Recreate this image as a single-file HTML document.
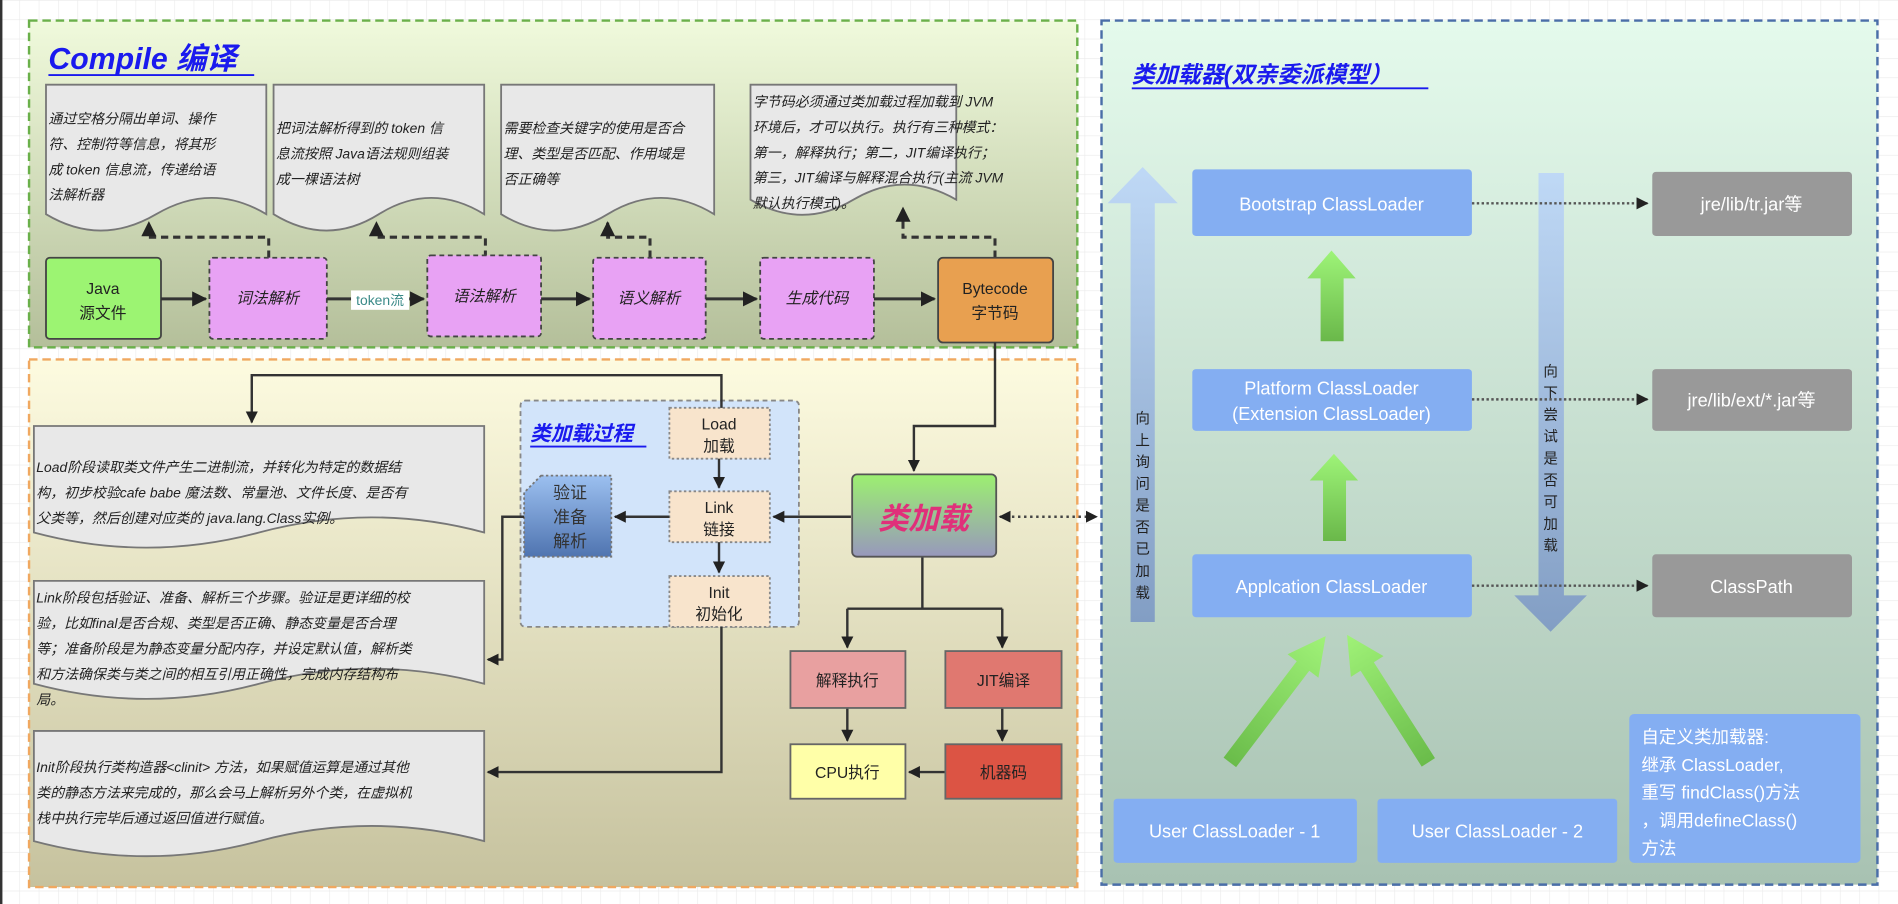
<!DOCTYPE html>
<html><head><meta charset="utf-8"><style>
html,body{margin:0;padding:0;width:1898px;height:904px;overflow:hidden;background:#fff}
svg{display:block}
text{font-family:"Liberation Sans","Noto Sans CJK SC",sans-serif}
.doc{fill:#e8e8e8;stroke:#777;stroke-width:1.5}
.dt{font-size:11.5px;font-style:italic;fill:#222}
.nt{font-size:13px;fill:#222;text-anchor:middle}
.wt{font-size:15px;fill:#fff;text-anchor:middle}
</style></head><body>
<svg width="1898" height="904" viewBox="0 0 1568 747" preserveAspectRatio="none" xmlns="http://www.w3.org/2000/svg">
<defs>
<pattern id="grid" width="16" height="16" patternUnits="userSpaceOnUse"><path d="M16 0H0V16" fill="none" stroke="#eaeaea" stroke-width="1"/></pattern>
<linearGradient id="gC" x1="0" y1="0" x2="0" y2="1"><stop offset="0" stop-color="#f0fadc"/><stop offset="1" stop-color="#b4bf9a"/></linearGradient>
<linearGradient id="gL" x1="0" y1="0" x2="0" y2="1"><stop offset="0" stop-color="#fdfbe0"/><stop offset="1" stop-color="#c6c29e"/></linearGradient>
<linearGradient id="gR" x1="0" y1="0" x2="0" y2="1"><stop offset="0" stop-color="#e4faec"/><stop offset="1" stop-color="#a8c2b2"/></linearGradient>
<linearGradient id="gK" x1="0" y1="0" x2="0" y2="1"><stop offset="0" stop-color="#9cf070"/><stop offset="1" stop-color="#9898bc"/></linearGradient>
<linearGradient id="gV" x1="0" y1="0" x2="0" y2="1"><stop offset="0" stop-color="#9cc0f0"/><stop offset="1" stop-color="#4f74b0"/></linearGradient>
<linearGradient id="gU" x1="0" y1="0" x2="0" y2="1"><stop offset="0" stop-color="#bcd6f8"/><stop offset="1" stop-color="#7c98c4"/></linearGradient>
<linearGradient id="gG" x1="0" y1="0" x2="0" y2="1"><stop offset="0" stop-color="#9ef478"/><stop offset="1" stop-color="#6ab84a"/></linearGradient>
<linearGradient id="gA" x1="0" y1="0" x2="1" y2="0"><stop offset="0" stop-color="#6abc4a"/><stop offset="1" stop-color="#a0f278"/></linearGradient>
<marker id="ah" viewBox="0 0 10 10" refX="9" refY="5" markerWidth="5" markerHeight="5" orient="auto-start-reverse"><path d="M0 0L10 5L0 10Z" fill="#222"/></marker>
</defs>
<rect width="1568" height="747" fill="url(#grid)"/>
<rect x="0" y="0" width="2" height="747" fill="#333"/>

<rect x="24" y="17" width="866" height="270" fill="url(#gC)" stroke="#6ab04a" stroke-width="2" stroke-dasharray="7,4"/>
<rect x="24" y="297" width="866" height="436" fill="url(#gL)" stroke="#f0a860" stroke-width="2" stroke-dasharray="7,4"/>
<rect x="910" y="17" width="641" height="714" fill="url(#gR)" stroke="#4a6ea8" stroke-width="2" stroke-dasharray="7,4"/>

<text x="40" y="57" font-size="25" font-weight="bold" font-style="italic" fill="#1a1aee">Compile 编译</text>
<line x1="40" y1="62" x2="210" y2="62" stroke="#1a1aee" stroke-width="1.5"/>

<path class="doc" d="M38,70 H220 V177 Q175,150 129,177 T38,177 Z"/>
<path class="doc" d="M226,70 H400 V177 Q356,150 313,177 T226,177 Z"/>
<path class="doc" d="M414,70 H590 V177 Q546,150 502,177 T414,177 Z"/>
<path class="doc" d="M620,70 H790 V165 Q747,140 705,165 T620,165 Z"/>
<text class="dt"><tspan x="40" y="102">通过空格分隔出单词、操作</tspan><tspan x="40" y="123">符、控制符等信息，将其形</tspan><tspan x="40" y="144">成 token 信息流，传递给语</tspan><tspan x="40" y="165">法解析器</tspan></text>
<text class="dt"><tspan x="228" y="110">把词法解析得到的 token 信</tspan><tspan x="228" y="131">息流按照 Java语法规则组装</tspan><tspan x="228" y="152">成一棵语法树</tspan></text>
<text class="dt"><tspan x="416" y="110">需要检查关键字的使用是否合</tspan><tspan x="416" y="131">理、类型是否匹配、作用域是</tspan><tspan x="416" y="152">否正确等</tspan></text>
<text class="dt"><tspan x="622" y="88">字节码必须通过类加载过程加载到 JVM</tspan><tspan x="622" y="109">环境后，才可以执行。执行有三种模式：</tspan><tspan x="622" y="130">第一，解释执行；第二，JIT编译执行；</tspan><tspan x="622" y="151">第三，JIT编译与解释混合执行(主流 JVM</tspan><tspan x="622" y="172">默认执行模式)。</tspan></text>

<g fill="none" stroke="#333" stroke-width="2.5" stroke-dasharray="6,4">
<path d="M222,213 V196 H123 V184" marker-end="url(#ah)"/>
<path d="M401,213 V196 H311 V184" marker-end="url(#ah)"/>
<path d="M537,213 V196 H502 V184" marker-end="url(#ah)"/>
<path d="M822,213 V196 H746 V172" marker-end="url(#ah)"/>
</g>

<rect x="38" y="213" width="95" height="67" rx="3" fill="#9cf472" stroke="#444" stroke-width="1.5"/>
<text class="nt" x="85" y="243">Java</text><text class="nt" x="85" y="263">源文件</text>
<g fill="#e8a2f4" stroke="#444" stroke-width="1.5" stroke-dasharray="4,3">
<rect x="173" y="213" width="97" height="67" rx="3"/>
<rect x="353" y="211" width="94" height="67" rx="3"/>
<rect x="490" y="213" width="93" height="67" rx="3"/>
<rect x="628" y="213" width="94" height="67" rx="3"/>
</g>
<text class="nt" x="221" y="251" font-style="italic">词法解析</text>
<text class="nt" x="400" y="249" font-style="italic">语法解析</text>
<text class="nt" x="536" y="251" font-style="italic">语义解析</text>
<text class="nt" x="675" y="251" font-style="italic">生成代码</text>
<rect x="775" y="213" width="95" height="70" rx="4" fill="#e8a050" stroke="#444" stroke-width="1.5"/>
<text class="nt" x="822" y="243">Bytecode</text><text class="nt" x="822" y="263">字节码</text>
<g fill="none" stroke="#333" stroke-width="2.5">
<line x1="133" y1="247" x2="170" y2="247" marker-end="url(#ah)"/>
<line x1="270" y1="247" x2="350" y2="247" marker-end="url(#ah)"/>
<line x1="447" y1="247" x2="487" y2="247" marker-end="url(#ah)"/>
<line x1="583" y1="247" x2="625" y2="247" marker-end="url(#ah)"/>
<line x1="722" y1="247" x2="772" y2="247" marker-end="url(#ah)"/>
</g>
<rect x="290" y="240" width="48" height="16" fill="#fff"/>
<text x="314" y="252" font-size="11.5" fill="#3a8a88" text-anchor="middle">token流</text>

<path class="doc" d="M28,352 H400 V440 Q307,415 214,440 T28,440 Z"/>
<path class="doc" d="M28,480 H400 V565 Q307,540 214,565 T28,565 Z"/>
<path class="doc" d="M28,604 H400 V695 Q307,670 214,695 T28,695 Z"/>
<text class="dt"><tspan x="30" y="390">Load阶段读取类文件产生二进制流，并转化为特定的数据结</tspan><tspan x="30" y="411">构，初步校验cafe babe 魔法数、常量池、文件长度、是否有</tspan><tspan x="30" y="432">父类等，然后创建对应类的 java.lang.Class实例。</tspan></text>
<text class="dt"><tspan x="30" y="498">Link阶段包括验证、准备、解析三个步骤。验证是更详细的校</tspan><tspan x="30" y="519">验，比如final是否合规、类型是否正确、静态变量是否合理</tspan><tspan x="30" y="540">等；准备阶段是为静态变量分配内存，并设定默认值，解析类</tspan><tspan x="30" y="561">和方法确保类与类之间的相互引用正确性，完成内存结构布</tspan><tspan x="30" y="582">局。</tspan></text>
<text class="dt"><tspan x="30" y="638">Init阶段执行类构造器&lt;clinit&gt; 方法，如果赋值运算是通过其他</tspan><tspan x="30" y="659">类的静态方法来完成的，那么会马上解析另外个类，在虚拟机</tspan><tspan x="30" y="680">栈中执行完毕后通过返回值进行赋值。</tspan></text>

<rect x="430" y="331" width="230" height="187" rx="4" fill="#d2e4fa" stroke="#888" stroke-width="1.5" stroke-dasharray="4,3"/>
<text x="438" y="364" font-size="17" font-weight="bold" font-style="italic" fill="#1a1aee">类加载过程</text>
<line x1="438" y1="369" x2="534" y2="369" stroke="#1a1aee" stroke-width="1.5"/>
<g fill="#f8e4cc" stroke="#888" stroke-width="1.5" stroke-dasharray="2,2">
<rect x="553" y="337" width="83" height="42"/>
<rect x="553" y="406" width="83" height="42"/>
<rect x="553" y="476" width="83" height="42"/>
</g>
<text class="nt" x="594" y="355">Load</text><text class="nt" x="594" y="373">加载</text>
<text class="nt" x="594" y="424">Link</text><text class="nt" x="594" y="442">链接</text>
<text class="nt" x="594" y="494">Init</text><text class="nt" x="594" y="512">初始化</text>
<path d="M447,393 H505 V460 H433 V407 Z" fill="url(#gV)" stroke="#777" stroke-width="1.5" stroke-dasharray="2,2"/>
<text font-size="14" fill="#333" text-anchor="middle"><tspan x="471" y="412">验证</tspan><tspan x="471" y="432">准备</tspan><tspan x="471" y="452">解析</tspan></text>

<g fill="none" stroke="#333" stroke-width="2">
<line x1="594" y1="379" x2="594" y2="403" marker-end="url(#ah)"/>
<line x1="594" y1="448" x2="594" y2="473" marker-end="url(#ah)"/>
<line x1="553" y1="427" x2="508" y2="427" marker-end="url(#ah)"/>
<line x1="703" y1="427" x2="639" y2="427" marker-end="url(#ah)"/>
<path d="M433,427 H415 V545 H403" marker-end="url(#ah)"/>
<path d="M596,337 V310 H208 V349" marker-end="url(#ah)"/>
<path d="M596,518 V638 H403" marker-end="url(#ah)"/>
<path d="M822,283 V352 H755 V389" marker-end="url(#ah)"/>
<path d="M762,460 V503 M700,503 H828"/>
<line x1="700" y1="503" x2="700" y2="535" marker-end="url(#ah)"/>
<line x1="828" y1="503" x2="828" y2="535" marker-end="url(#ah)"/>
<line x1="700" y1="585" x2="700" y2="612" marker-end="url(#ah)"/>
<line x1="828" y1="585" x2="828" y2="612" marker-end="url(#ah)"/>
<line x1="781" y1="638" x2="751" y2="638" marker-end="url(#ah)"/>
</g>
<line x1="826" y1="427" x2="906" y2="427" stroke="#444" stroke-width="2" stroke-dasharray="2,3" marker-start="url(#ah)" marker-end="url(#ah)"/>

<rect x="704" y="392" width="119" height="68" rx="4" fill="url(#gK)" stroke="#555" stroke-width="1.5"/>
<text x="763" y="437" font-size="25" font-weight="bold" font-style="italic" fill="#e0307a" text-anchor="middle">类加载</text>

<rect x="653" y="538" width="95" height="47" fill="#e8a0a0" stroke="#666" stroke-width="1.5"/>
<text class="nt" x="700" y="567">解释执行</text>
<rect x="781" y="538" width="96" height="47" fill="#e07870" stroke="#666" stroke-width="1.5"/>
<text class="nt" x="829" y="567">JIT编译</text>
<rect x="653" y="615" width="95" height="45" fill="#ffffa8" stroke="#666" stroke-width="1.5"/>
<text class="nt" x="700" y="643">CPU执行</text>
<rect x="781" y="615" width="96" height="45" fill="#dc5444" stroke="#666" stroke-width="1.5"/>
<text class="nt" x="829" y="643">机器码</text>

<text x="935" y="68" font-size="19" font-weight="bold" font-style="italic" fill="#1a1aee">类加载器(双亲委派模型）</text>
<line x1="935" y1="73" x2="1180" y2="73" stroke="#1a1aee" stroke-width="1.5"/>

<path d="M934,514 V168 H915 L944,138 L973,168 H954 V514 Z" fill="url(#gU)" opacity="0.9"/>
<text font-size="12" fill="#222" text-anchor="middle"><tspan x="944" y="350">向</tspan><tspan x="944" y="368">上</tspan><tspan x="944" y="386">询</tspan><tspan x="944" y="404">问</tspan><tspan x="944" y="422">是</tspan><tspan x="944" y="440">否</tspan><tspan x="944" y="458">已</tspan><tspan x="944" y="476">加</tspan><tspan x="944" y="494">载</tspan></text>
<path d="M1271,143 H1292 V492 H1311 L1281,522 L1251,492 H1271 Z" fill="url(#gU)" opacity="0.9"/>
<text font-size="12" fill="#222" text-anchor="middle"><tspan x="1281" y="311">向</tspan><tspan x="1281" y="329">下</tspan><tspan x="1281" y="347">尝</tspan><tspan x="1281" y="365">试</tspan><tspan x="1281" y="383">是</tspan><tspan x="1281" y="401">否</tspan><tspan x="1281" y="419">可</tspan><tspan x="1281" y="437">加</tspan><tspan x="1281" y="455">载</tspan></text>

<g fill="#84aef2">
<rect x="985" y="140" width="231" height="55" rx="3"/>
<rect x="985" y="305" width="231" height="51" rx="3"/>
<rect x="985" y="458" width="231" height="52" rx="3"/>
<rect x="920" y="660" width="201" height="53" rx="3"/>
<rect x="1138" y="660" width="198" height="53" rx="3"/>
<rect x="1346" y="590" width="191" height="123" rx="4"/>
</g>
<g fill="#999">
<rect x="1365" y="142" width="165" height="53" rx="3"/>
<rect x="1365" y="305" width="165" height="51" rx="3"/>
<rect x="1365" y="458" width="165" height="52" rx="3"/>
</g>
<text class="wt" x="1100" y="174">Bootstrap ClassLoader</text>
<text class="wt" x="1100" y="326">Platform ClassLoader</text>
<text class="wt" x="1100" y="347">(Extension ClassLoader)</text>
<text class="wt" x="1100" y="490">Applcation ClassLoader</text>
<text class="wt" x="1447" y="174">jre/lib/tr.jar等</text>
<text class="wt" x="1447" y="336">jre/lib/ext/*.jar等</text>
<text class="wt" x="1447" y="490">ClassPath</text>
<text class="wt" x="1020" y="692">User ClassLoader - 1</text>
<text class="wt" x="1237" y="692">User ClassLoader - 2</text>
<text font-size="14.5" fill="#fff"><tspan x="1356" y="614">自定义类加载器:</tspan><tspan x="1356" y="637">继承 ClassLoader,</tspan><tspan x="1356" y="660">重写 findClass()方法</tspan><tspan x="1356" y="683">，调用defineClass()</tspan><tspan x="1356" y="706">方法</tspan></text>

<g fill="none" stroke="#555" stroke-width="2" stroke-dasharray="2,2">
<line x1="1216" y1="168" x2="1361" y2="168" marker-end="url(#ah)"/>
<line x1="1216" y1="330" x2="1361" y2="330" marker-end="url(#ah)"/>
<line x1="1216" y1="484" x2="1361" y2="484" marker-end="url(#ah)"/>
</g>

<path d="M1091,282 V230 H1080 L1100,207 L1120,230 H1110 V282 Z" fill="url(#gG)"/>
<path d="M1093,447 V397 H1082 L1102,375 L1122,397 H1112 V447 Z" fill="url(#gG)"/>
<path transform="translate(1016,630) rotate(-52.8)" d="M0,-6.5 H100 V-16 L131,0 L100,16 V6.5 H0 Z" fill="url(#gA)"/>
<path transform="translate(1180,630) rotate(-122.5)" d="M0,-6.5 H94 V-16 L125,0 L94,16 V6.5 H0 Z" fill="url(#gA)"/>
</svg>
</body></html>
